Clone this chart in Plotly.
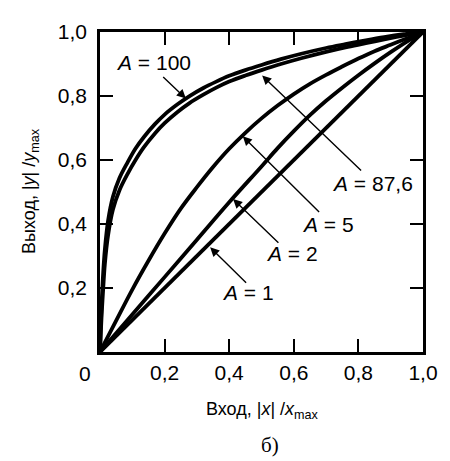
import plotly.graph_objects as go

# ---- data ----
x_pair = [0, 0.002, 0.005, 0.01, 0.015, 0.025, 0.04, 0.06, 0.085, 0.11, 0.136, 0.17, 0.2,
          0.24, 0.276, 0.32, 0.36, 0.4, 0.45, 0.5, 0.56, 0.623, 0.7, 0.76, 0.823, 0.88, 0.94, 1.0]
y_a876 = [0, 0.07, 0.15, 0.25, 0.32, 0.41, 0.485, 0.543, 0.592, 0.636, 0.672, 0.712, 0.742,
          0.774, 0.799, 0.825, 0.845, 0.863, 0.881, 0.897, 0.915, 0.932, 0.95, 0.962, 0.974, 0.984, 0.993, 1.0]
y_a100 = [0, 0.05, 0.115, 0.2, 0.275, 0.365, 0.445, 0.505, 0.556, 0.6, 0.64, 0.683, 0.715,
          0.75, 0.777, 0.804, 0.826, 0.845, 0.864, 0.881, 0.9, 0.918, 0.938, 0.952, 0.965, 0.977, 0.989, 1.0]
x_a5 = [0, 0.05, 0.1, 0.15, 0.2, 0.25, 0.3, 0.35, 0.4, 0.45, 0.5, 0.55, 0.6, 0.65, 0.7,
        0.75, 0.8, 0.85, 0.9, 0.95, 1.0]
y_a5 = [0, 0.098, 0.195, 0.285, 0.37, 0.448, 0.515, 0.578, 0.635, 0.685, 0.73, 0.77, 0.806,
        0.838, 0.866, 0.892, 0.917, 0.94, 0.96, 0.98, 1.0]
x_a2 = [0, 0.1, 0.2, 0.3, 0.4, 0.5, 0.55, 0.6, 0.65, 0.7, 0.75, 0.8, 0.85, 0.9, 0.95, 1.0]
y_a2 = [0, 0.117, 0.234, 0.351, 0.468, 0.58, 0.637, 0.69, 0.74, 0.785, 0.826, 0.865, 0.902,
        0.937, 0.97, 1.0]
x_a1 = [0, 1.0]
y_a1 = [0, 1.0]

tick_vals = [0.2, 0.4, 0.6, 0.8, 1.0]
tick_text = ["0,2", "0,4", "0,6", "0,8", "1,0"]

labels = ["A = 100", "A = 87,6", "A = 5", "A = 2", "A = 1"]
label_pos = [(0.166, 0.905), (0.843, 0.527), (0.705, 0.40), (0.593, 0.307), (0.459, 0.187)]
arrow_tail = [(0.191, 0.864), (0.813, 0.563), (0.683, 0.433), (0.557, 0.337), (0.457, 0.212)]
arrow_head = [(0.266, 0.792), (0.502, 0.864), (0.442, 0.674), (0.412, 0.478), (0.341, 0.327)]

FONT = "Liberation Sans"
fig = go.Figure()
curves = [(x_pair, y_a876), (x_pair, y_a100), (x_a5, y_a5), (x_a2, y_a2), (x_a1, y_a1)]
for xs, ys in curves:
    fig.add_trace(go.Scatter(x=xs, y=ys, mode="lines",
                             line=dict(color="black", width=3.8, shape="spline", smoothing=1.0),
                             showlegend=False, hoverinfo="skip"))

for (tx, ty), (hx, hy) in zip(arrow_tail, arrow_head):
    fig.add_annotation(x=hx, y=hy, ax=tx, ay=ty, xref="x", yref="y", axref="x", ayref="y",
                       text="", showarrow=True, arrowhead=2, arrowsize=1.3, arrowwidth=1.4,
                       arrowcolor="black", standoff=0)

for lab, (lx, ly) in zip(labels, label_pos):
    a, rest = lab.split(" ", 1)
    fig.add_annotation(x=lx, y=ly, xref="x", yref="y", text="<i>" + a + "</i> " + rest,
                       showarrow=False, font=dict(family=FONT, size=21, color="black"))

# corner zero
fig.add_annotation(x=0, y=0, xref="paper", yref="paper", text="0", showarrow=False,
                   xanchor="center", yanchor="middle", xshift=-15, yshift=-21,
                   font=dict(family=FONT, size=21, color="black"))
# axis titles
fig.add_annotation(x=0.503, y=-0.184, xref="paper", yref="paper", xanchor="center",
                   yanchor="middle", text="Вход, |<i>x</i>| /<i>x</i><sub>max</sub>",
                   showarrow=False, font=dict(family=FONT, size=18, color="black"))
fig.add_annotation(x=-0.217, y=0.503, xref="paper", yref="paper", textangle=-90,
                   xanchor="center", yanchor="middle",
                   text="Выход, |<i>y</i>| /<i>y</i><sub>max</sub>", showarrow=False,
                   font=dict(family=FONT, size=18, color="black"))
fig.add_annotation(x=0.527, y=-0.29, xref="paper", yref="paper", text="б)", showarrow=False,
                   xanchor="center", yanchor="middle",
                   font=dict(family="Liberation Serif", size=21, color="black"))

axis_common = dict(range=[0, 1], showgrid=False, zeroline=False, showline=True, linewidth=2.5,
                   linecolor="black", mirror="ticks", ticks="inside", ticklen=13, tickwidth=2,
                   tickcolor="black", tickvals=tick_vals, ticktext=tick_text,
                   tickfont=dict(family=FONT, size=21, color="black"))
fig.update_xaxes(**axis_common, ticklabelstandoff=0)
fig.update_yaxes(**axis_common, ticklabelstandoff=6)
# page body adds an 8px offset, so the figure is sized to fit the 450x461 window
fig.update_layout(width=442, height=453, margin=dict(l=92, r=18, t=12, b=109),
                  plot_bgcolor="white", paper_bgcolor="white")
fig.write_html("out.html")
